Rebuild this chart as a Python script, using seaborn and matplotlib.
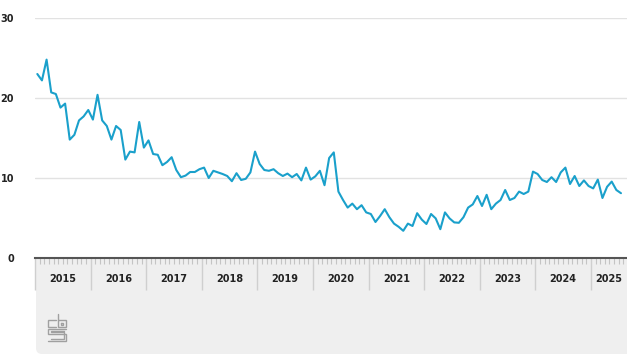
import matplotlib
matplotlib.use("Agg")
import matplotlib.pyplot as plt
import matplotlib.transforms as mtransforms
from matplotlib.patches import FancyBboxPatch
import seaborn as sns
import pandas as pd
import numpy as np

# maandcijfers, januari 2015 t/m juli 2025
start_jaar = 2015
waarden = [
    23.0, 22.2, 24.8, 20.7, 20.5, 18.8, 19.3, 14.8, 15.4, 17.2, 17.7, 18.5,
    17.3, 20.4, 17.2, 16.5, 14.8, 16.5, 16.0, 12.3, 13.3, 13.2, 17.0, 13.8,
    14.7, 13.0, 12.9, 11.6, 12.0, 12.6, 11.0, 10.1, 10.3, 10.75, 10.75, 11.1,
    11.3, 10.0, 10.9, 10.7, 10.5, 10.25, 9.6, 10.6, 9.75, 9.9, 10.7, 13.3,
    11.75, 11.0, 10.9, 11.1, 10.6, 10.25, 10.55, 10.1, 10.5, 9.7, 11.3, 9.8,
    10.2, 10.9, 9.1, 12.5, 13.2, 8.3, 7.25, 6.3, 6.8, 6.1, 6.6, 5.7,
    5.5, 4.5, 5.25, 6.1, 5.1, 4.3, 3.9, 3.4, 4.3, 4.0, 5.6, 4.8,
    4.25, 5.5, 4.95, 3.6, 5.7, 4.95, 4.45, 4.4, 5.1, 6.3, 6.7, 7.75,
    6.5, 7.9, 6.1, 6.8, 7.25, 8.5, 7.25, 7.5, 8.3, 8.0, 8.3, 10.8,
    10.5, 9.75, 9.5, 10.1, 9.5, 10.7, 11.3, 9.25, 10.25, 9.0, 9.7, 9.0,
    8.7, 9.8, 7.5, 8.9, 9.55, 8.5, 8.1,
]
jaren = [str(j) for j in range(2015, 2026)]
y_ticks = [0, 10, 20, 30]

df = pd.DataFrame({"maand": np.arange(len(waarden)), "waarde": waarden})

sns.set_style("white")
plt.rcParams["font.family"] = ["DejaVu Sans"]

W, H = 627, 362
fig = plt.figure(figsize=(W / 100, H / 100), dpi=100)

# grijs paneel onder de grafiek
pan = fig.add_axes([36 / W, 1 - 354 / H, (W - 36) / W, (354 - 258) / H])
pan.set_xlim(0, W - 36)
pan.set_ylim(0, 96)
pan.axis("off")
pan.add_patch(FancyBboxPatch((0, 0), W, 100, boxstyle="round,pad=0,rounding_size=6",
                             facecolor="#efefef", edgecolor="none"))
# cbs logo (benadering)
logo_kleur = "#a0a0a0"
ox, oy = 11, 12
for xs, ys in [
    ([9, 1, 1, 9], [22, 22, 15, 15]),
    ([11, 11, 19, 19, 11], [28, 15, 15, 22, 22]),
    ([19, 1, 1, 19, 19, 1], [13, 13, 8, 8, 1, 1]),
    ([14, 16, 16, 14, 14], [19.5, 19.5, 17.5, 17.5, 19.5]),
    ([17, 4, 4, 17, 17, 4], [11, 11, 10, 10, 3, 3]),
]:
    pan.plot(np.array(xs) + ox, np.array(ys) + oy, color=logo_kleur, lw=1.0,
             solid_joinstyle="miter")

ax = fig.add_axes([35 / W, 1 - 258 / H, (W - 35) / W, (258 - 18) / H])
ax.set_facecolor("white")
sns.lineplot(data=df, x="maand", y="waarde", color="#1aa0cb", lw=1.5, ax=ax)

xmax = len(waarden) + 0.3
ax.set_xlim(-0.5, xmax)
ax.set_ylim(0, 30)
ax.set_yticks(y_ticks)
ax.set_yticklabels([str(t) for t in y_ticks])
ax.yaxis.grid(True, color="#e2e2e2", lw=1)
ax.set_axisbelow(True)
ax.set_xlabel("")
ax.set_ylabel("")
for s in ["top", "right", "left"]:
    ax.spines[s].set_visible(False)
ax.spines["bottom"].set_color("#555555")
ax.spines["bottom"].set_linewidth(1.5)
ax.spines["bottom"].set_zorder(5)

grenzen = [12 * i - 0.5 for i in range(len(jaren))]
ax.set_xticks(grenzen)
ax.set_xticklabels([])
ax.set_xticks(np.arange(-0.5, xmax, 1), minor=True)
ax.tick_params(axis="x", which="both", bottom=True)
ax.tick_params(axis="x", which="major", length=23, width=1, color="#cfcfcf", direction="out")
ax.tick_params(axis="x", which="minor", length=4.5, width=0.8, color="#c4c4c4", direction="out")
ax.tick_params(axis="y", length=0, pad=15, labelsize=7, labelcolor="#222222")
for lab in ax.get_yticklabels():
    lab.set_fontweight("bold")

trans = mtransforms.blended_transform_factory(ax.transData, fig.transFigure)
for i, jaar in enumerate(jaren):
    a = grenzen[i]
    b = min(a + 12, xmax)
    ax.text((a + b) / 2, 1 - 279 / H, jaar, transform=trans, ha="center", va="center",
            fontsize=7, fontweight="bold", color="#222222")

fig.savefig("out.png", dpi=100)
